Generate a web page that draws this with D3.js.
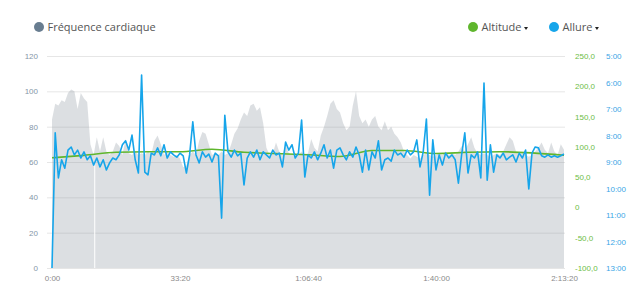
<!DOCTYPE html>
<html>
<head>
<meta charset="utf-8">
<script src="https://cdn.jsdelivr.net/npm/d3@7"></script>
<style>
  body { margin: 0; background: #fff; }
  svg { display: block; font-family: "Open Sans", sans-serif; }
</style>
</head>
<body>
<div id="view"></div>
<script>
var width = 640, height = 296;

// seconds between samples
var step = 50;

// heart rate (bpm), one value every 50 s
var heartRate = [
  84, 93, 92, 95, 94, 99, 101, 100, 90, 99,
  96, 94, 70, 64, 74, 66, 74, 66, 64, 66,
  71, 69, 64, 73, 65, 64, 66, 64, 65, 64,
  66, 64, 72, 75, 70, 64, 66, 64, 63, 64,
  62, 57, 58, 64, 66, 64, 72, 77, 76, 70,
  64, 65, 64, 66, 64, 65, 70, 76, 79, 84,
  88, 86, 92, 93, 89, 91, 82, 68, 64, 65,
  71, 66, 64, 70, 65, 64, 65, 64, 66, 64,
  65, 73, 68, 66, 75, 80, 86, 93, 95, 90,
  88, 82, 78, 80, 92, 100, 86, 82, 84, 80,
  84, 86, 80, 78, 83, 78, 80, 76, 74, 71,
  66, 64, 62, 64, 63, 62, 64, 65, 64, 63,
  64, 65, 64, 66, 64, 65, 64, 66, 69, 66,
  70, 74, 68, 65, 64, 65, 64, 63, 64, 65,
  64, 66, 70, 74, 72, 66, 64, 65, 64, 63,
  64, 66, 68, 71, 67, 65, 71, 66, 64, 70,
  67
];

// heart rate sensor dropouts (seconds)
var hrGaps = [660];

// pace (seconds per km), one value every 50 s
var pace = [
  780, 474, 576, 535, 554, 513, 506, 524, 513, 531,
  517, 535, 526, 547, 531, 551, 535, 558, 542, 531,
  535, 524, 501, 492, 513, 479, 535, 565, 343, 563,
  569, 520, 524, 508, 526, 501, 531, 517, 524, 529,
  520, 526, 565, 524, 449, 524, 542, 517, 529, 522,
  540, 520, 526, 667, 434, 517, 529, 513, 526, 520,
  592, 531, 517, 529, 513, 535, 517, 524, 531, 513,
  524, 520, 551, 495, 513, 501, 531, 520, 445, 574,
  524, 531, 517, 535, 520, 501, 531, 513, 554, 513,
  508, 524, 535, 517, 529, 506, 524, 563, 513, 558,
  517, 531, 492, 558, 535, 531, 538, 513, 524, 520,
  529, 513, 524, 517, 490, 551, 517, 443, 615, 490,
  558, 524, 547, 520, 531, 524, 535, 588, 524, 474,
  565, 524, 531, 517, 576, 361, 581, 501, 563, 524,
  531, 520, 535, 529, 524, 540, 520, 531, 513, 601,
  520, 506, 508, 526, 529, 524, 529, 526, 529, 526,
  522
];

// altitude (m), one value every 500 s
var altitude = [82, 86, 91, 92, 92, 96, 91, 89, 87, 84, 94, 94, 89, 91, 92, 90, 86];

var timeTicks = [0, 2000, 4000, 6000, 8000];
var hrTicks = [0, 20, 40, 60, 80, 100, 120];
var altTicks = [-100, -50, 0, 50, 100, 150, 200, 250];
var paceTicks = [300, 360, 420, 480, 540, 600, 660, 720, 780];

var svg = d3.select("#view")
    .append("svg")
    .attr("width", width)
    .attr("height", height);

var x = d3.scaleLinear().domain([0, 8000]).range([52, 564]);
var yHr = d3.scaleLinear().domain([0, 120]).range([268, 56]);
var yAlt = d3.scaleLinear().domain([-100, 250]).range([268, 56]);
var yPace = d3.scaleLinear().domain([300, 780]).range([56, 268]);

function clock(s) {
    var h = Math.floor(s / 3600), m = Math.floor((s % 3600) / 60), sec = Math.round(s % 60);
    var pad = function(n) { return (n < 10 ? "0" : "") + n; };
    return h > 0 ? h + ":" + pad(m) + ":" + pad(sec) : m + ":" + pad(sec);
}

// grid + left axis
var gy = svg.append("g")
    .attr("transform", "translate(47,0)")
    .call(d3.axisLeft(yHr).tickValues(hrTicks).tickSize(-518).tickPadding(9));
gy.select(".domain").remove();
gy.selectAll("line").attr("stroke", "#e6e6e6");
gy.selectAll("text").attr("fill", "#8596a8").attr("font-size", 8);

// heart rate area
svg.append("path")
    .datum(heartRate)
    .attr("fill", "rgb(140,150,160)")
    .attr("fill-opacity", 0.3)
    .attr("d", d3.area()
        .x(function(d, i) { return x(i * step); })
        .y0(yHr(0))
        .y1(function(d) { return yHr(d); }));

svg.selectAll(".gap")
    .data(hrGaps)
    .enter().append("line")
    .attr("x1", function(d) { return x(d) + 0.5; })
    .attr("x2", function(d) { return x(d) + 0.5; })
    .attr("y1", yHr(0))
    .attr("y2", yHr(60))
    .attr("stroke", "#fff")
    .attr("stroke-width", 1);

// altitude
svg.append("path")
    .datum(altitude)
    .attr("fill", "none")
    .attr("stroke", "#5fb62d")
    .attr("stroke-width", 1.6)
    .attr("d", d3.line()
        .curve(d3.curveMonotoneX)
        .x(function(d, i) { return x(i * 500); })
        .y(function(d) { return yAlt(d); }));

// pace
svg.append("path")
    .datum(pace)
    .attr("fill", "none")
    .attr("stroke", "#16a5ea")
    .attr("stroke-width", 1.6)
    .attr("stroke-linejoin", "round")
    .attr("d", d3.line()
        .x(function(d, i) { return x(i * step); })
        .y(function(d) { return yPace(d); }));

// x axis
var gx = svg.append("g")
    .attr("transform", "translate(0,268)")
    .call(d3.axisBottom(x).tickValues(timeTicks).tickSize(0).tickPadding(7).tickFormat(clock));
gx.select(".domain").remove();
gx.selectAll("text").attr("fill", "#8a8a8a").attr("font-size", 8);

// altitude axis
var ga = svg.append("g")
    .attr("transform", "translate(567,0)")
    .call(d3.axisRight(yAlt).tickValues(altTicks).tickSize(0).tickPadding(8)
        .tickFormat(function(d) { return d === 0 ? "0" : d.toFixed(1).replace(".", ","); }));
ga.select(".domain").remove();
ga.selectAll("text").attr("fill", "#6cbd45").attr("font-size", 8);

// pace axis
var gp = svg.append("g")
    .attr("transform", "translate(598,0)")
    .call(d3.axisRight(yPace).tickValues(paceTicks).tickSize(0).tickPadding(8).tickFormat(clock));
gp.select(".domain").remove();
gp.selectAll("text").attr("fill", "#3aa6e6").attr("font-size", 8);

// legend
var legend = [
    {label: "Fréquence cardiaque", color: "#687d90", x: 39, menu: false},
    {label: "Altitude", color: "#5fb62d", x: 473, menu: true},
    {label: "Allure", color: "#16a5ea", x: 554, menu: true}
];

var lg = svg.selectAll(".legend")
    .data(legend)
    .enter().append("g")
    .attr("class", "legend")
    .attr("transform", function(d) { return "translate(" + d.x + ",27)"; });

lg.append("circle")
    .attr("r", 5)
    .attr("fill", function(d) { return d.color; });

lg.append("text")
    .attr("x", 8.5)
    .attr("y", 4)
    .attr("font-size", 11)
    .attr("fill", "#555")
    .text(function(d) { return d.label; })
    .each(function(d) { d.w = this.getComputedTextLength(); });

lg.filter(function(d) { return d.menu; })
    .append("path")
    .attr("fill", "#222")
    .attr("d", function(d) {
        var x0 = 8.5 + d.w + 2.5;
        return "M" + x0 + ",0L" + (x0 + 4) + ",0L" + (x0 + 2) + ",3Z";
    });
</script>
</body>
</html>
